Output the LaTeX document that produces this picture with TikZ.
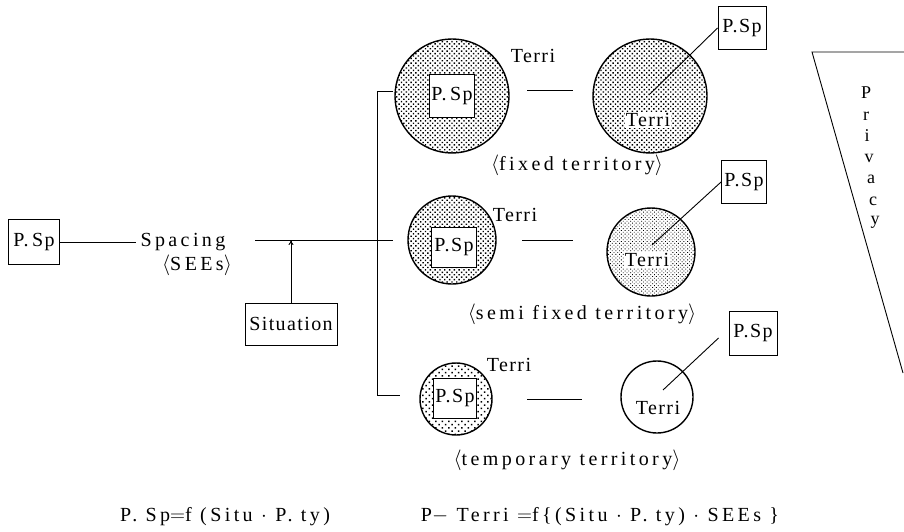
\documentclass[tikz,border=0pt]{standalone}
\usepackage{fontspec}
\setmainfont{Liberation Serif}
\newfontfamily\widesp[LetterSpace=17]{Liberation Serif}
\newfontfamily\midsp[LetterSpace=7]{Liberation Serif}
\usetikzlibrary{patterns.meta,calc,arrows.meta}
\newcommand{\fsz}{\fontsize{20pt}{24pt}\selectfont}
\newcommand{\fsp}{\fontsize{18pt}{21pt}\selectfont}
\begin{document}
\begin{tikzpicture}[x=1pt,y=-1pt,
  lw/.style={line width=0.9pt},
  psbox/.style={draw,line width=0.9pt,fill=white,inner sep=0pt,minimum width=46pt,minimum height=42pt,font=\fsz\midsp},
  terr/.style={circle,draw,line width=1.4pt,inner sep=0pt,minimum size=#1},
  dense/.style={pattern={Dots[distance=3.4pt,angle=45,radius=1pt]}},
  light/.style={pattern={Dots[distance=2.6pt,angle=45,radius=0.6pt]}},
  sparse/.style={pattern={Dots[distance=4.6pt,angle=45,radius=1pt]}},
  lbl/.style={font=\fsz\widesp,inner sep=0pt},
  tlbl/.style={font=\fsz\midsp,inner sep=0pt},
  plet/.style={font=\fsp,inner sep=0pt},
]
\useasboundingbox (0,0) rectangle (904,532);

% left part
\node[psbox,minimum width=51pt,minimum height=45pt] (psL) at (34,242) {P.\,Sp};
\node[lbl] (sp) at (183,242) {S\,pacing};
\node[lbl] (sees) at (197,265) {$\langle$SEEs$\rangle$};
\coordinate (spl) at (136,242);
\draw[lw] (psL.east) -- (spl);
\coordinate (hl) at (255,240);
\coordinate (hr) at (393,240);
\draw[lw] (hl) -- (hr);
\node[draw,line width=0.9pt,inner sep=0pt,minimum width=92pt,minimum height=42pt,font=\fsz\midsp] (sit) at (291,324) {Situation};
\draw[lw,-{To[length=5pt,width=5pt]}] (sit.north) -- (sit.north |- hl);

% bracket
\coordinate (bt) at (377,91);
\coordinate (btr) at (393,91);
\coordinate (bb) at (377,395);
\coordinate (bbr) at (400,395);
\draw[lw] (btr) -- (bt) -- (bb) -- (bbr);

% row 1 fixed
\node[terr=114pt,dense] (c1l) at (452,96) {};
\node[psbox,minimum width=45pt,minimum height=43pt] (b1l) at (452,96) {P.\,Sp};
\node[tlbl] (t1l) at (533,56) {Terri};
\node[terr=114pt,dense] (c1r) at (650,96) {};
\node[tlbl,fill=white,inner sep=1pt] (t1r) at (648,120) {Terri};
\node[psbox,minimum width=48pt,minimum height=43pt] (b1r) at (742,28) {P.Sp};
\coordinate (s1) at (650,94);
\draw[lw] (s1) -- (b1r.west);
\coordinate (d1a) at (527,90);
\coordinate (d1b) at (573,90);
\draw[lw] (d1a) -- (d1b);
\node[lbl] (fx) at (577,165) {$\langle$fixed territory$\rangle$};

% row 2 semi fixed
\node[terr=88pt,dense] (c2l) at (452,240) {};
\node[psbox,minimum width=45pt,minimum height=40pt] (b2l) at (454,247) {P.Sp};
\node[tlbl] (t2l) at (515,215) {Terri};
\node[terr=88pt,light] (c2r) at (651,252) {};
\node[tlbl,fill=white,inner sep=1pt] (t2r) at (647,260) {Terri};
\node[psbox,minimum width=45pt,minimum height=43pt] (b2r) at (744,182) {P.Sp};
\coordinate (s2) at (652,245);
\draw[lw] (s2) -- (b2r.west);
\coordinate (d2a) at (522,240);
\coordinate (d2b) at (573,240);
\draw[lw] (d2a) -- (d2b);
\node[lbl] (sf) at (582,314) {$\langle$semi fixed territory$\rangle$};

% row 3 temporary
\node[terr=72pt,sparse] (c3l) at (456,399) {};
\node[psbox,minimum width=43pt,minimum height=40pt] (b3l) at (455,398) {P.Sp};
\node[tlbl] (t3l) at (509,365) {Terri};
\node[terr=72pt] (c3r) at (657,397) {};
\node[tlbl] (t3r) at (658,408) {Terri};
\node[psbox,minimum width=48pt,minimum height=44pt] (b3r) at (753,333) {P.Sp};
\coordinate (s3) at (663,390);
\draw[lw] (s3) -- ($(b3r.west)+(-10,5)$);
\coordinate (d3a) at (527,399);
\coordinate (d3b) at (582,399);
\draw[lw] (d3a) -- (d3b);
\node[lbl] (tp) at (567,460) {$\langle$temporary territory$\rangle$};

% privacy
\coordinate (pa) at (812,52);
\coordinate (pb) at (904,52);
\coordinate (pc) at (903,373);
\draw[lw] (pb) -- (pa) -- (pc);
\node[plet,anchor=base] (p1) at (866,99) {P};
\node[plet,anchor=base] (p2) at (866,121) {r};
\node[plet,anchor=base] (p3) at (867,142) {i};
\node[plet,anchor=base] (p4) at (869,162) {v};
\node[plet,anchor=base] (p5) at (871,183) {a};
\node[plet,anchor=base] (p6) at (873,205) {c};
\node[plet,anchor=base] (p7) at (875,224) {y};

% formulas
\node[lbl] (f1) at (225,517) {P.\ Sp$=$f (Situ $\cdot$ P.\ ty)};
\node[lbl] (f2) at (600,517) {P$-$ Terri $=$f\{(Situ $\cdot$ P.\ ty) $\cdot$ SEEs \}};
\end{tikzpicture}
\end{document}
